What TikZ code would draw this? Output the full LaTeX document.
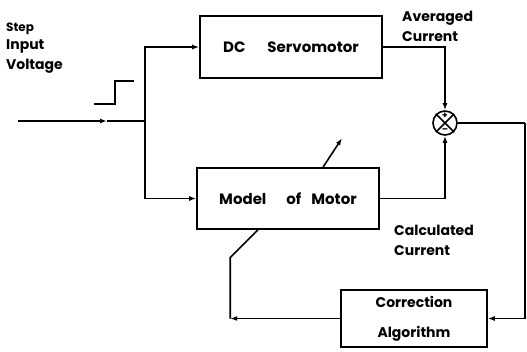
\documentclass[tikz,border=0pt]{standalone}
\usepackage{fontspec}
\setmainfont{Poppins}
\usetikzlibrary{arrows.meta,positioning,calc}
\tikzset{
    every node/.append style={align=center},
    blk/.style={rectangle,draw=black,line width=1.6pt,font=\bfseries\fontsize{15}{18}\selectfont,inner sep=2pt},
    sumj/.style={circle,draw=black,line width=1.6pt,minimum size=24pt,inner sep=0pt},
    arr/.style={-{Latex[length=7pt,width=5pt]},line width=1.6pt},
    ln/.style={line width=1.6pt},
    lbl/.style={font=\bfseries\fontsize{14}{20}\selectfont,align=left,inner sep=0pt}
}

\begin{document}
\begin{tikzpicture}[x=1pt,y=-1pt]
    \useasboundingbox (0,0) rectangle (527,351);

    \node[blk,minimum width=182pt,minimum height=62pt] (servo) at (291,47) {DC\hspace{22pt}Servomotor};
    \node[blk,minimum width=182pt,minimum height=61pt] (model) at (288,198.5) {Model\hspace{20pt}of\hspace{10pt}Motor};
    \node[blk,minimum width=146pt,minimum height=57pt,font=\bfseries\fontsize{14}{16}\selectfont] (corr) at (414,318.5) {Correction\\[14pt]Algorithm};
    \node[sumj] (sum) at (445,123) {};

    % inputs
    \coordinate (in) at (18,121);
    \coordinate (inmid) at (107,121);
    \coordinate (split) at (145,121);
    \draw[arr] (in) -- (inmid);
    \draw[ln] (inmid) -- (split);
    \draw[arr] (split) |- (servo.west);
    \draw[arr] (split) |- (model.west);

    % step symbol
    \draw[ln] (94,104) -- (115,104) -- (115,81) -- (134,81);

    % outputs to the comparator
    \draw[arr] (servo.east) -| (sum.north);
    \draw[arr] (model.east) -| (sum.south);
    \draw[ln] (sum.north west) -- (sum.south east);
    \draw[ln] (sum.north east) -- (sum.south west);
    \node[font=\bfseries\fontsize{9}{9}\selectfont,inner sep=0pt] (plus) at ($(sum.center)+(0,-7)$) {+};
    \node[font=\bfseries\fontsize{9}{9}\selectfont,inner sep=0pt] (minus) at ($(sum.center)+(0,7.5)$) {–};

    % error path
    \coordinate (errR) at (525,123);
    \draw[ln] (sum.east) -- (errR);
    \draw[arr] (errR) |- (corr.east);

    % parameter correction
    \coordinate (fbk) at ($(corr.west)+(-110,0)$);
    \coordinate (fbkup) at ($(fbk)+(0,-61)$);
    \draw[arr] (corr.west) -- (fbk);
    \draw[ln] (fbk) -- (fbkup) -- ($(model.south)+(-30,0)$);
    \draw[arr] ($(model.north)+(35,0)$) -- ++(19,-29);

    % labels
    \node[lbl,anchor=north west,font=\bfseries\fontsize{12}{14}\selectfont] (step) at (6,23) {Step};
    \node[lbl,below=4pt of step.south west,anchor=north west] (inlbl) {Input\\Voltage};
    \node[lbl,anchor=west] (avg) at (402,26) {Averaged\\Current};
    \node[lbl,anchor=west] (calc) at (394,240) {Calculated\\Current};
\end{tikzpicture}
\end{document}
